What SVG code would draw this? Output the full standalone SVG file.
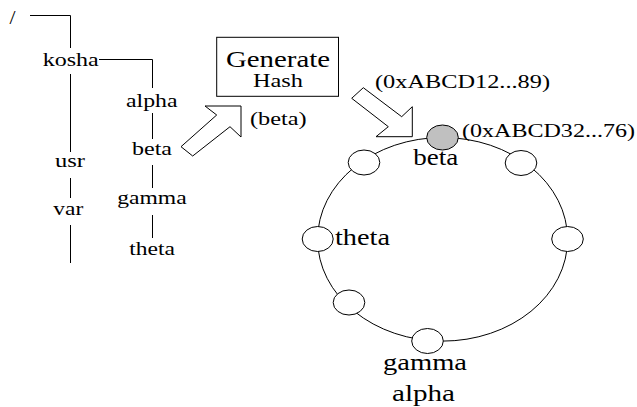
<svg xmlns="http://www.w3.org/2000/svg" width="637" height="407" viewBox="0 0 637 407">
<style>
text{font-family:"Liberation Serif","Times New Roman",serif;fill:#000}
.t{font-size:19px}
.r{font-size:23px}
.ln{stroke:#000;stroke-width:1;fill:none}
.node{stroke:#000;stroke-width:1;fill:#fff}
.hit{stroke:#000;stroke-width:1;fill:#c0c0c0}
.arrow{stroke:#000;stroke-width:1;fill:#fff;stroke-linejoin:miter}
</style>
<rect width="637" height="407" fill="#fff"/>
<g id="connectors">
<polyline class="ln" points="30,15.5 70.5,15.5 70.5,48"/>
<line class="ln" x1="70.5" y1="74" x2="70.5" y2="152"/>
<line class="ln" x1="70.5" y1="178" x2="70.5" y2="198"/>
<line class="ln" x1="70.5" y1="225" x2="70.5" y2="263"/>
<polyline class="ln" points="99,59.5 152.5,59.5 152.5,88"/>
<line class="ln" x1="152.5" y1="113" x2="152.5" y2="139"/>
<line class="ln" x1="152.5" y1="165" x2="152.5" y2="188"/>
<line class="ln" x1="152.5" y1="215" x2="152.5" y2="238"/>
<ellipse id="ring" class="ln" cx="442.6" cy="239.3" rx="125" ry="101.8"/>
</g>
<g id="tree">
<g id="root"><text class="t" x="9.5" y="24" textLength="6" lengthAdjust="spacingAndGlyphs">/</text></g>
<g id="kosha"><text class="t" x="42.7" y="65.5" textLength="56" lengthAdjust="spacingAndGlyphs">kosha</text></g>
<g id="usr"><text class="t" x="55" y="166.5" textLength="30" lengthAdjust="spacingAndGlyphs">usr</text></g>
<g id="var"><text class="t" x="53.3" y="215" textLength="30" lengthAdjust="spacingAndGlyphs">var</text></g>
<g id="alpha"><text class="t" x="126" y="106.5" textLength="51.5" lengthAdjust="spacingAndGlyphs">alpha</text></g>
<g id="beta"><text class="t" x="132" y="155" textLength="40" lengthAdjust="spacingAndGlyphs">beta</text></g>
<g id="gamma"><text class="t" x="117.2" y="203.5" textLength="69.5" lengthAdjust="spacingAndGlyphs">gamma</text></g>
<g id="theta"><text class="t" x="129.3" y="255" textLength="45.7" lengthAdjust="spacingAndGlyphs">theta</text></g>
</g>
<g id="generate-hash">
<rect class="node" x="216.7" y="37.3" width="121.8" height="59"/>
<text x="226" y="66.7" font-size="24" textLength="104" lengthAdjust="spacingAndGlyphs">Generate</text>
<text x="253" y="86.7" font-size="19" textLength="50" lengthAdjust="spacingAndGlyphs">Hash</text>
</g>
<g id="arrow-in">
<polygon class="arrow" points="181,146.7 216.7,115 205,106 241,106 241,137 230,126.7 192.7,156"/>
<text class="t" x="250" y="125" textLength="56.7" lengthAdjust="spacingAndGlyphs">(beta)</text>
</g>
<g id="arrow-out">
<polygon class="arrow" points="363.3,87.7 401.7,116.7 412.3,106.7 412.3,136.7 376,136.7 388.3,126.7 351.7,98.3"/>
<text class="t" x="375" y="88" textLength="175" lengthAdjust="spacingAndGlyphs">(0xABCD12...89)</text>
</g>
<g id="ring-nodes">
<g id="n-beta"><ellipse class="hit" cx="442.5" cy="137.5" rx="15.8" ry="12.5"/>
<text class="t" x="462" y="136.7" textLength="173" lengthAdjust="spacingAndGlyphs">(0xABCD32...76)</text>
<text class="r" x="413.3" y="165" textLength="45" lengthAdjust="spacingAndGlyphs">beta</text></g>
<g id="n-tl"><ellipse class="node" cx="364" cy="162.5" rx="15.8" ry="12.5"/></g>
<g id="n-tr"><ellipse class="node" cx="521" cy="163" rx="15.8" ry="12.5"/></g>
<g id="n-theta"><ellipse class="node" cx="317.7" cy="239" rx="15.5" ry="12.5"/>
<text class="r" x="335" y="244.5" textLength="55" lengthAdjust="spacingAndGlyphs">theta</text></g>
<g id="n-r"><ellipse class="node" cx="567.5" cy="239" rx="15.8" ry="12.5"/></g>
<g id="n-ll"><ellipse class="node" cx="349" cy="302.5" rx="15.8" ry="12.5"/></g>
<g id="n-b"><ellipse class="node" cx="427.5" cy="341" rx="15.8" ry="12.5"/>
<text class="r" x="383" y="370" textLength="84" lengthAdjust="spacingAndGlyphs">gamma</text>
<text class="r" x="392" y="400.5" textLength="63" lengthAdjust="spacingAndGlyphs">alpha</text></g>
</g>
</svg>
